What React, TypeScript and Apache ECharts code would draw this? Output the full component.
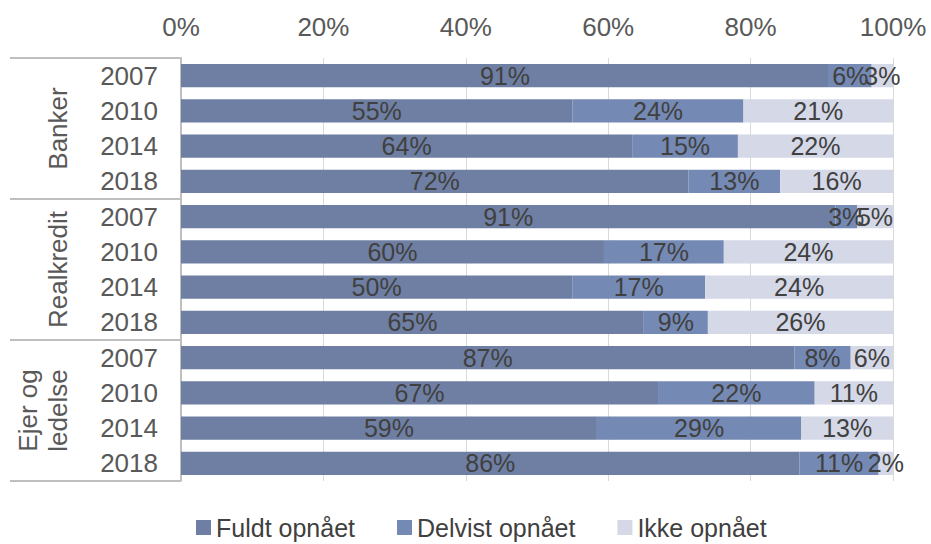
import React, { useEffect, useRef } from "react";
import * as echarts from "echarts";

const groups = ["Banker", "Realkredit", "Ejer og\nledelse"];
const years = ["2007", "2010", "2014", "2018"];
const seriesNames = ["Fuldt opnået", "Delvist opnået", "Ikke opnået"];
const fuldt = [91, 55, 64, 72, 91, 60, 50, 65, 87, 67, 59, 86];
const delvist = [6, 24, 15, 13, 3, 17, 17, 9, 8, 22, 29, 11];
const ikke = [3, 21, 22, 16, 5, 24, 24, 26, 6, 11, 13, 2];
const colors = ["#6e7fa3", "#7489b4", "#d4d8e7"];

const FONT = "Liberation Sans, Arial, sans-serif";

export default function App() {
  const ref = useRef<HTMLDivElement>(null);
  useEffect(() => {
    document.body.style.margin = "0";
    if (!ref.current) return;
    const chart = echarts.init(ref.current, null, { renderer: "svg" });
    const categories = groups.flatMap((g) => years.map((y) => g + "|" + y));
    const raw = [fuldt, delvist, ikke];
    const totals = fuldt.map((v, i) => v + delvist[i] + ikke[i]);
    const series = raw.map((arr, si) => ({
      name: seriesNames[si],
      type: "bar",
      stack: "total",
      barCategoryGap: "34%",
      itemStyle: { color: colors[si] },
      label: {
        show: true,
        position: "inside",
        fontFamily: FONT,
        fontSize: 25,
        color: "#404040",
        formatter: (p: any) => arr[p.dataIndex] + "%",
      },
      data: arr.map((v, i) => (v / totals[i]) * 100),
    }));
    chart.setOption({
      animation: false,
      textStyle: { fontFamily: FONT },
      grid: { left: 181, right: 38, top: 58, bottom: 63 },
      legend: {
        left: 191,
        top: 510,
        itemWidth: 15,
        itemHeight: 15,
        itemGap: 42,
        icon: "rect",
        textStyle: { fontSize: 25, color: "#404040", fontFamily: FONT },
        data: seriesNames,
      },
      xAxis: {
        type: "value",
        position: "top",
        min: 0,
        max: 100,
        interval: 20,
        axisLine: { show: false },
        axisTick: { show: false },
        axisLabel: {
          formatter: "{value}%",
          fontSize: 26,
          color: "#595959",
          margin: 18,
          fontFamily: FONT,
        },
        splitLine: { show: true, lineStyle: { color: "#d9d9d9", width: 1 } },
      },
      yAxis: {
        type: "category",
        inverse: true,
        data: categories,
        axisLine: { show: true, lineStyle: { color: "#bfbfbf", width: 2 } },
        axisTick: { show: false },
        axisLabel: {
          fontSize: 26,
          color: "#595959",
          margin: 23,
          fontFamily: FONT,
          formatter: (v: string) => v.split("|")[1],
        },
      },
      series,
    });

    const x0 = chart.convertToPixel({ xAxisIndex: 0 }, 0) as number;
    const c0 = chart.convertToPixel({ yAxisIndex: 0 }, 0) as number;
    const c1 = chart.convertToPixel({ yAxisIndex: 0 }, 1) as number;
    const band = c1 - c0;
    const graphic: any[] = [];
    const n = years.length;
    for (let g = 0; g <= groups.length; g++) {
      const y = c0 - band / 2 + g * n * band;
      graphic.push({
        type: "line",
        shape: { x1: 10, y1: y, x2: x0 - 1, y2: y },
        style: { stroke: "#bfbfbf", lineWidth: 2 },
        silent: true,
      });
    }
    groups.forEach((g, gi) => {
      const yc = c0 - band / 2 + (gi + 0.5) * n * band;
      const lines = g.split("\n").length;
      graphic.push({
        type: "text",
        x: 58 - (lines - 1) * 15,
        y: yc,
        rotation: Math.PI / 2,
        style: {
          text: g,
          fontSize: 26,
          fontFamily: FONT,
          fill: "#595959",
          align: "center",
          verticalAlign: "middle",
          lineHeight: 30,
        },
        silent: true,
      });
    });
    chart.setOption({ graphic });
    return () => chart.dispose();
  }, []);
  return <div ref={ref} style={{ width: 931, height: 544 }} />;
}
